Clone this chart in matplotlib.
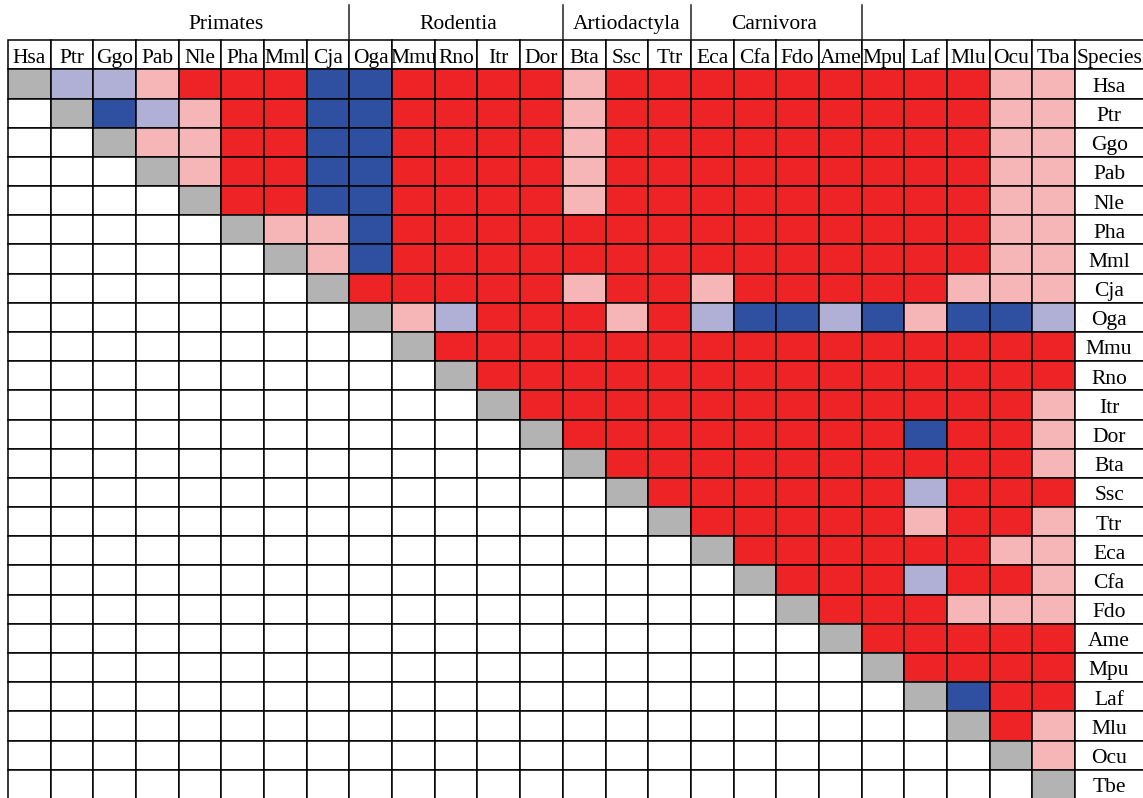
import matplotlib.pyplot as plt
from matplotlib.patches import Rectangle

# species codes (columns end with Tba, rows end with Tbe as in the original)
col_species = ['Hsa', 'Ptr', 'Ggo', 'Pab', 'Nle', 'Pha', 'Mml', 'Cja', 'Oga',
               'Mmu', 'Rno', 'Itr', 'Dor', 'Bta', 'Ssc', 'Ttr', 'Eca', 'Cfa',
               'Fdo', 'Ame', 'Mpu', 'Laf', 'Mlu', 'Ocu', 'Tba']
row_species = col_species[:-1] + ['Tbe']

groups = ['Primates', 'Rodentia', 'Artiodactyla', 'Carnivora']
group_ends = [8, 13, 16, 20]
group_centers = [5.1, 10.55, 14.5, 17.95]

# upper triangle, one string per row, R=red P=pink L=lilac B=blue
upper = [
    'LLPRRRBBRRRRPRRRRRRRRRPP',
    'BLPRRBBRRRRPRRRRRRRRRPP',
    'PPRRBBRRRRPRRRRRRRRRPP',
    'PRRBBRRRRPRRRRRRRRRPP',
    'RRBBRRRRPRRRRRRRRRPP',
    'PPBRRRRRRRRRRRRRRPP',
    'PBRRRRRRRRRRRRRRPP',
    'RRRRRPRRPRRRRRPPP',
    'PLRRRPRLBBLBPBBL',
    'RRRRRRRRRRRRRRR',
    'RRRRRRRRRRRRRR',
    'RRRRRRRRRRRRP',
    'RRRRRRRRBRRP',
    'RRRRRRRRRRP',
    'RRRRRRLRRR',
    'RRRRRPRRP',
    'RRRRRRPP',
    'RRRLRRP',
    'RRRPPP',
    'RRRRR',
    'RRRR',
    'BRR',
    'RP',
    'P',
    '',
]

colors = {'R': '#ee2325', 'P': '#f6b6b8', 'L': '#b0b0d7', 'B': '#2f4fa1',
          'G': '#b3b3b3', 'W': 'white'}

n = len(col_species)
cw = 42.68   # px per column
rh = 29.15   # px per row
fs = 15.5
font = 'Liberation Serif'
base = 0.77  # text baseline inside a row

fig = plt.figure(figsize=(11.43, 7.98), dpi=100)
ax = fig.add_axes([0, 0, 1, 1])
ax.set_xlim(-8 / cw, (1143 - 8) / cw)
ax.set_ylim(24.97, -69.3 / rh)
ax.axis('off')

lw = 1.1
# header row
for j, name in enumerate(col_species):
    ax.add_patch(Rectangle((j, -1), 1, 1, fc='white', ec='black', lw=lw))
    ax.text(j + 0.5, -1 + base, name, ha='center', va='baseline', fontsize=fs, family=font)
ax.add_patch(Rectangle((n, -1), 2, 1, fc='white', ec='black', lw=lw))
ax.text(n + 0.8, -1 + base, 'Species', ha='center', va='baseline', fontsize=fs, family=font)

# matrix cells
for i, name in enumerate(row_species):
    for j in range(n):
        if j == i:
            code = 'G'
        elif j > i:
            code = upper[i][j - i - 1]
        else:
            code = 'W'
        ax.add_patch(Rectangle((j, i), 1, 1, fc=colors[code], ec='black', lw=lw))
    ax.add_patch(Rectangle((n, i), 2, 1, fc='white', ec='black', lw=lw))
    ax.text(n + 0.8, i + base, name, ha='center', va='baseline', fontsize=fs, family=font)

# group labels and dividers
for g, xe, xc in zip(groups, group_ends, group_centers):
    ax.text(xc, -1.38, g, ha='center', va='baseline', fontsize=fs, family=font)
    ax.plot([xe, xe], [-2.2, -1], color='#222222', lw=lw)

fig.savefig('out.png', dpi=100)
